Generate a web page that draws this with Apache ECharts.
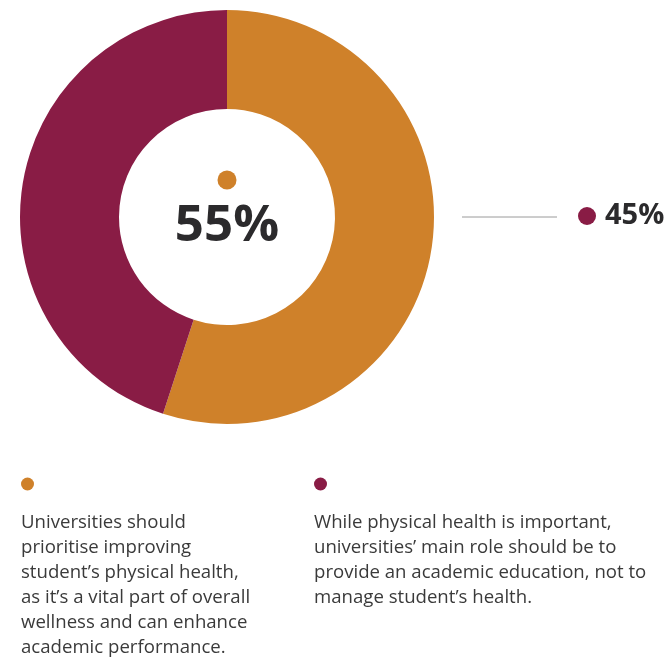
<!DOCTYPE html>
<html>
<head>
<meta charset="utf-8">
<script src="https://cdn.jsdelivr.net/npm/echarts@6/dist/echarts.min.js"></script>
<style>
  html, body { margin: 0; padding: 0; background: #ffffff; }
  #chart { width: 670px; height: 660px; }
</style>
</head>
<body>
<div id="chart"></div>
<script>
// Survey split: physical health vs academic focus
const categories = [
  'Universities should prioritise improving student\u2019s physical health, as it\u2019s a vital part of overall wellness and can enhance academic performance.',
  'While physical health is important, universities\u2019 main role should be to provide an academic education, not to manage student\u2019s health.'
];
const shares = [55, 45];
const colors = ['#CF812A', '#891C45'];
const legendLines = [
  ['Universities should', 'prioritise improving', 'student\u2019s physical health,', 'as it\u2019s a vital part of overall', 'wellness and can enhance', 'academic performance.'],
  ['While physical health is important,', 'universities\u2019 main role should be to', 'provide an academic education, not to', 'manage student\u2019s health.']
];

const chart = echarts.init(document.getElementById('chart'), null, { renderer: 'canvas' });
const FONT = '"Open Sans", "Noto Sans", sans-serif';
const cx = 227, cy = 217;

const graphic = [
  // centre value
  { type: 'circle', shape: { cx: cx, cy: 180, r: 9.5 }, style: { fill: colors[0] }, z: 10 },
  { type: 'text', x: cx, y: 226, style: { text: shares[0] + '%', font: '700 51px ' + FONT, fill: '#2b2a2c', textAlign: 'center', textVerticalAlign: 'middle' }, z: 10 },
  // side value
  { type: 'line', shape: { x1: 462, y1: 217, x2: 557, y2: 217 }, style: { stroke: '#9a9a9a', lineWidth: 1 } },
  { type: 'circle', shape: { cx: 587, cy: 216, r: 9 }, style: { fill: colors[1] } },
  { type: 'text', x: 605, y: 216, style: { text: shares[1] + '%', font: '700 29px ' + FONT, fill: '#2b2a2c', textAlign: 'left', textVerticalAlign: 'middle' } }
];

// legend blocks
const legendX = [21, 314];
legendLines.forEach(function (lines, i) {
  graphic.push({ type: 'circle', shape: { cx: legendX[i] + 6.5, cy: 484, r: 6.5 }, style: { fill: colors[i] } });
  graphic.push({
    type: 'text', x: legendX[i], y: 510,
    style: { text: lines.join('\n'), font: '400 18.6px ' + FONT, lineHeight: 25, fill: '#3a3a3a', textAlign: 'left', textVerticalAlign: 'top' }
  });
});

chart.setOption({
  animation: false,
  backgroundColor: '#ffffff',
  series: [{
    type: 'pie',
    center: [cx, cy],
    radius: [108, 207],
    startAngle: 90,
    clockwise: true,
    label: { show: false },
    labelLine: { show: false },
    emphasis: { disabled: true },
    data: categories.map(function (name, i) {
      return { name: name, value: shares[i], itemStyle: { color: colors[i] } };
    })
  }],
  graphic: graphic
});
</script>
</body>
</html>
